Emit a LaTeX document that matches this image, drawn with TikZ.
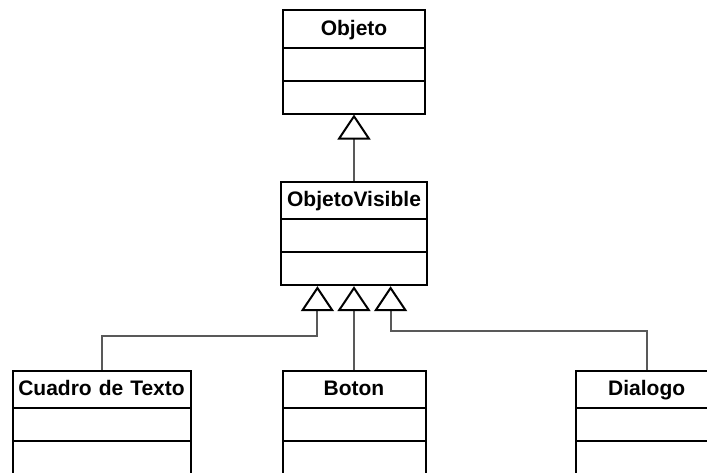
\documentclass[tikz,border=0pt]{standalone}
\usepackage{fontspec}
\setmainfont{Liberation Sans}
\usetikzlibrary{positioning,shapes.multipart,arrows.meta,trees}

% class name with a fixed-height strut for the name compartment
\newcommand{\classname}[1]{\rule[-11.5pt]{0pt}{35.5pt}#1}

\begin{document}
\begin{tikzpicture}
        [x=1pt, y=1pt,
        font=\fontsize{21}{25}\selectfont\bfseries,
        classbox/.style={rectangle split, rectangle split parts=3,
            draw=black, line width=2pt,
            inner xsep=0pt, inner ysep=0pt, text width=142pt, align=center,
            rectangle split empty part height=31pt,
            rectangle split empty part depth=0pt},
        generalization/.style={draw=black!65, line width=2pt,
            -{Triangle[open, color=black, length=25pt, width=33pt]}},
        edge from parent/.style={draw=none},
        level 1/.style={level distance=171.7pt},
        level 2/.style={level distance=188.8pt, sibling distance=272pt}]
        \fill [white] (0,0) rectangle (707,-472);
        \useasboundingbox (0,0) rectangle (707,-472);
        \node [classbox] (objeto) at (354,-61.75) {\classname{Objeto}}
        child {
            node [classbox, text width=146pt] (visible) {\classname{ObjetoVisible}}
            child [xshift=19.5] {
                node [classbox, text width=178pt] (cuadro) {\classname{Cuadro de Texto}}
            }
            child {
                node [classbox, text width=143pt] (boton) {\classname{Boton}}
            }
            child [xshift=20.7] {
                node [classbox] (dialogo) {\classname{Dialogo}}
            }
        };
        % tips of the three triangles under ObjetoVisible
        \coordinate (visible-l) at ([xshift=-36.6pt]visible.south);
        \coordinate (visible-m) at (visible.south);
        \coordinate (visible-r) at ([xshift=36.6pt]visible.south);
        \draw [generalization] (visible.north) -- (objeto.south);
        \draw [generalization] (cuadro.north) |- ([yshift=-49.5pt]visible-l) -- (visible-l);
        \draw [generalization] (boton.north) -- (visible-m);
        \draw [generalization] (dialogo.north) |- ([yshift=-44.5pt]visible-r) -- (visible-r);
\end{tikzpicture}
\end{document}
